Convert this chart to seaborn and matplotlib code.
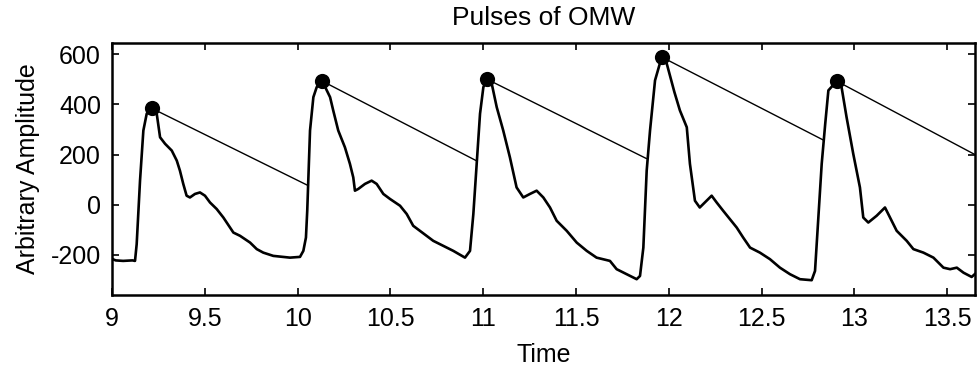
import numpy as np
import pandas as pd
import matplotlib
matplotlib.use("Agg")
import matplotlib.pyplot as plt
import seaborn as sns

# Waveform samples (time, amplitude)
time = [9.000, 9.020, 9.060, 9.110, 9.124, 9.133, 9.151, 9.169, 9.187, 9.216,
        9.241, 9.259, 9.286, 9.322, 9.349, 9.366, 9.384, 9.402, 9.420, 9.447,
        9.474, 9.501, 9.528, 9.564, 9.600, 9.636, 9.654, 9.690, 9.744, 9.780,
        9.815, 9.869, 9.959, 10.013, 10.031, 10.045, 10.052, 10.067, 10.085, 10.103,
        10.133, 10.175, 10.192, 10.219, 10.255, 10.282, 10.300, 10.309, 10.327, 10.363,
        10.399, 10.426, 10.462, 10.498, 10.552, 10.588, 10.623, 10.659, 10.731, 10.785,
        10.839, 10.902, 10.929, 10.947, 10.965, 10.983, 11.001, 11.022, 11.046, 11.073,
        11.108, 11.144, 11.180, 11.216, 11.252, 11.288, 11.324, 11.360, 11.396, 11.450,
        11.504, 11.558, 11.611, 11.683, 11.719, 11.773, 11.827, 11.845, 11.863, 11.881,
        11.899, 11.926, 11.962, 11.989, 12.030, 12.060, 12.097, 12.114, 12.141, 12.167,
        12.194, 12.231, 12.258, 12.293, 12.329, 12.366, 12.401, 12.438, 12.491, 12.545,
        12.599, 12.653, 12.707, 12.770, 12.788, 12.806, 12.824, 12.843, 12.860, 12.905,
        12.931, 12.958, 12.994, 13.030, 13.048, 13.075, 13.120, 13.165, 13.192, 13.228,
        13.282, 13.318, 13.372, 13.426, 13.480, 13.516, 13.552, 13.588, 13.632, 13.668]
amplitude = [-216, -222, -224, -222, -224, -157, 96, 296, 363, 384,
             363, 269, 243, 216, 176, 136, 83, 36, 29, 43,
             49, 36, 9, -17, -51, -91, -111, -124, -151, -177,
             -191, -204, -211, -208, -184, -131, -24, 296, 429, 469,
             493, 429, 376, 296, 229, 163, 109, 56, 63, 83,
             96, 83, 43, 23, -4, -37, -84, -104, -144, -164,
             -184, -211, -184, -37, 163, 363, 469, 500, 483, 389,
             296, 189, 69, 29, 43, 56, 29, -11, -64, -104,
             -151, -184, -211, -224, -257, -277, -297, -284, -171, 136,
             296, 496, 589, 563, 450, 376, 309, 163, 16, -11,
             9, 36, 9, -24, -57, -91, -131, -171, -191, -217,
             -251, -277, -297, -301, -264, -51, 163, 323, 456, 493,
             469, 349, 203, 69, -51, -71, -44, -11, -51, -104,
             -144, -177, -191, -211, -251, -257, -251, -271, -288, -264]

# Detected peaks
peak_time = [9.216, 10.133, 11.022, 11.962, 12.905]
peak_amp = [384, 493, 500, 589, 493]

# End points of the lines drawn from each peak
end_time = [10.058, 10.962, 11.880, 12.838, 13.660]
end_amp = [76, 176, 184, 256, 196]

x_ticks = [9, 9.5, 10, 10.5, 11, 11.5, 12, 12.5, 13, 13.5]
x_tick_labels = ["9", "9.5", "10", "10.5", "11", "11.5", "12", "12.5", "13", "13.5"]
y_ticks = [-200, 0, 200, 400, 600]
y_tick_labels = ["-200", "0", "200", "400", "600"]

sns.set_theme(style="white")
plt.rcParams['font.family'] = ['Liberation Sans', 'DejaVu Sans']
plt.rcParams['text.color'] = 'black'
plt.rcParams['axes.labelcolor'] = 'black'
plt.rcParams['xtick.color'] = 'black'
plt.rcParams['ytick.color'] = 'black'

fig = plt.figure(figsize=(9.8, 3.67), dpi=100)
ax = fig.add_axes([112 / 980, 1 - 295 / 367, (975 - 112) / 980, (295 - 43) / 367])

wave = pd.DataFrame({"t": time, "a": amplitude})
sns.lineplot(data=wave, x="t", y="a", sort=False, estimator=None, color="black",
             linewidth=1.9, ax=ax)

seg_rows = []
for i in range(len(peak_time)):
    seg_rows.append({"seg": i, "t": peak_time[i], "a": peak_amp[i]})
    seg_rows.append({"seg": i, "t": end_time[i], "a": end_amp[i]})
segs = pd.DataFrame(seg_rows)
sns.lineplot(data=segs, x="t", y="a", units="seg", estimator=None, sort=False,
             color="black", linewidth=1.0, ax=ax)

peaks = pd.DataFrame({"t": peak_time, "a": peak_amp})
sns.scatterplot(data=peaks, x="t", y="a", color="black", s=120, edgecolor="black",
                linewidth=0, ax=ax, zorder=5)

ax.set_xlim(9, 13.65)
ax.set_ylim(-360, 645)
ax.set_xticks(x_ticks)
ax.set_xticklabels(x_tick_labels)
ax.set_yticks(y_ticks)
ax.set_yticklabels(y_tick_labels)

for lab in ax.get_xticklabels() + ax.get_yticklabels():
    lab.set_fontsize(18)
    lab.set_color("black")

ax.tick_params(axis="both", direction="in", length=5, width=1.2, top=True, right=True,
               bottom=True, left=True, color="black", labelcolor="black")
ax.tick_params(axis="x", pad=9)
ax.tick_params(axis="y", pad=8)

for sp in ax.spines.values():
    sp.set_visible(True)
    sp.set_color("black")
    sp.set_linewidth(1.8)

ax.set_xlabel("Time", fontsize=18, labelpad=8, color="black")
ax.set_ylabel("Arbitrary Amplitude", fontsize=18, labelpad=8, color="black")
ax.set_title("Pulses of OMW", fontsize=19, pad=13, color="black")

fig.savefig("out.png", dpi=100)
